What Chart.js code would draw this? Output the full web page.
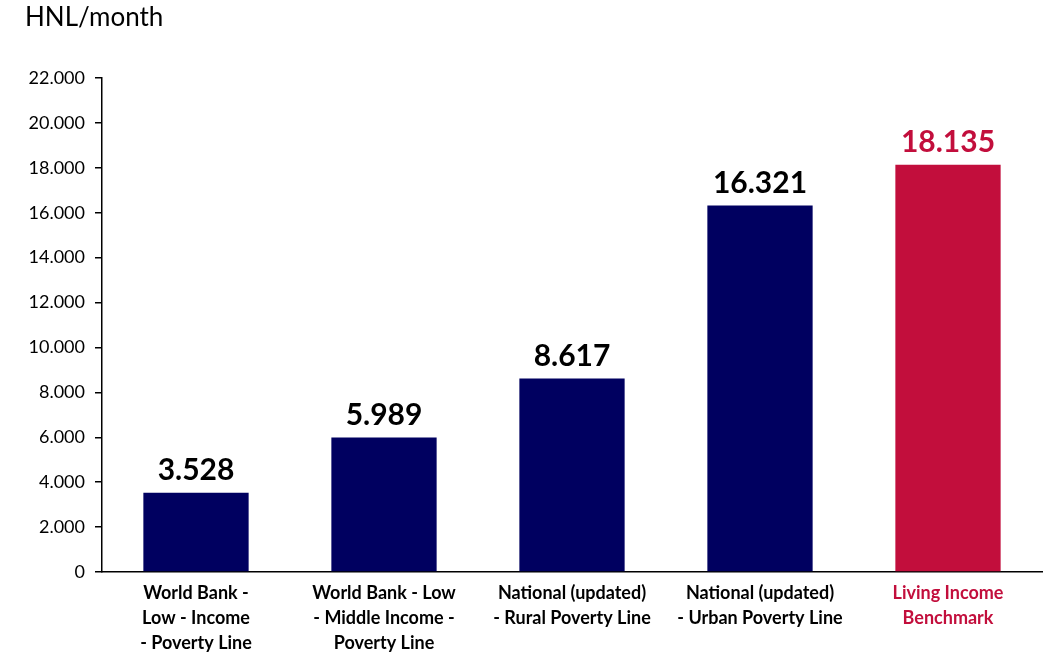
<!DOCTYPE html>
<html>
<head>
<meta charset="utf-8">
<script src="https://cdn.jsdelivr.net/npm/chart.js@4"></script>
<style>
  html, body { margin: 0; padding: 0; background: #fff; }
  #wrap { width: 1048px; height: 654px; }
</style>
</head>
<body>
<div id="wrap"><canvas id="incomeChart"></canvas></div>
<script>
// values
var categories = [
    ['World Bank -', 'Low - Income', '- Poverty Line'],
    ['World Bank - Low', '- Middle Income -', 'Poverty Line'],
    ['National (updated)', '- Rural Poverty Line'],
    ['National (updated)', '- Urban Poverty Line'],
    ['Living Income', 'Benchmark']
];
var values = [3528, 5989, 8617, 16321, 18135];
var barColors = ['#000060', '#000060', '#000060', '#000060', '#C20E3C'];
var labelColors = ['#000000', '#000000', '#000000', '#000000', '#C20E3C'];
var unitLabel = 'HNL/month';

function fmt(v) {
    // dot as thousands separator
    return v.toLocaleString('en-US').replace(/,/g, '.');
}

// draws the value above each bar and the unit label top-left
var valueLabels = {
    id: 'valueLabels',
    afterDatasetsDraw: function (chart) {
        var ctx = chart.ctx;
        var meta = chart.getDatasetMeta(0);
        ctx.save();
        ctx.font = 'bold 30px Lato, "Open Sans", sans-serif';
        ctx.textAlign = 'center';
        ctx.textBaseline = 'bottom';
        meta.data.forEach(function (bar, i) {
            ctx.fillStyle = labelColors[i];
            ctx.fillText(fmt(values[i]), bar.x, bar.y - 7);
        });
        ctx.font = '26px Lato, "Open Sans", sans-serif';
        ctx.fillStyle = '#000';
        ctx.textAlign = 'left';
        ctx.textBaseline = 'middle';
        ctx.fillText(unitLabel, 25, 18);
        ctx.restore();
    }
};

var ctx = document.getElementById('incomeChart').getContext('2d');
var incomeChart = new Chart(ctx, {
    type: 'bar',
    data: {
        labels: categories,
        datasets: [{
            data: values,
            backgroundColor: barColors,
            categoryPercentage: 1,
            barPercentage: 0.56
        }]
    },
    options: {
        responsive: true,
        maintainAspectRatio: false,
        animation: false,
        layout: { padding: { top: 78, right: 6, left: 0, bottom: 0 } },
        plugins: {
            legend: { display: false },
            tooltip: { enabled: false }
        },
        scales: {
            x: {
                grid: { display: false },
                border: { color: '#000', width: 1.5 },
                ticks: {
                    padding: 1,
                    maxRotation: 0,
                    autoSkip: false,
                    color: labelColors,
                    font: { family: 'Lato, "Open Sans", sans-serif', size: 18, weight: 'bold', lineHeight: '25px' }
                },
                afterFit: function (scale) { scale.height = 82; }
            },
            y: {
                min: 0,
                max: 22000,
                grid: { drawOnChartArea: false, tickLength: 7, color: '#000', lineWidth: 1.5 },
                border: { color: '#000', width: 1.5 },
                ticks: {
                    stepSize: 2000,
                    padding: 10,
                    color: '#000',
                    font: { family: 'Lato, "Open Sans", sans-serif', size: 18 },
                    callback: function (v) { return fmt(v); }
                },
                afterFit: function (scale) { scale.width = 102; }
            }
        }
    },
    plugins: [valueLabels]
});
</script>
</body>
</html>
